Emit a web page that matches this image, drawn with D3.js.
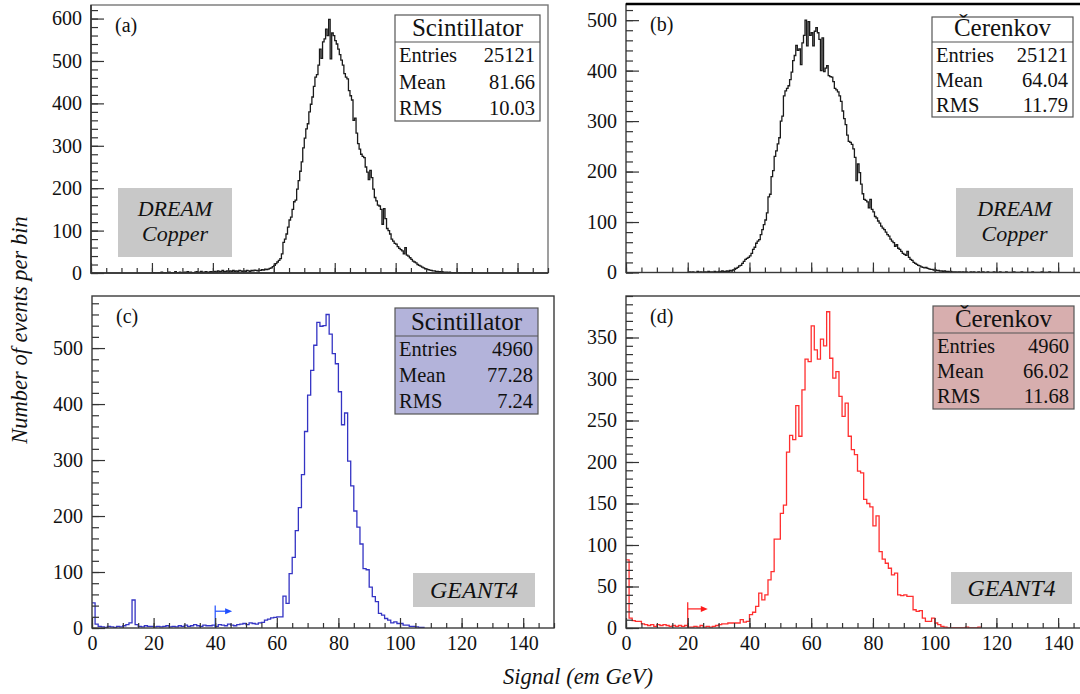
<!DOCTYPE html>
<html>
<head>
<meta charset="utf-8">
<script src="https://d3js.org/d3.v7.min.js"></script>
<style>
  body { margin: 0; background: #fff; }
  text { font-family: "Liberation Serif", "DejaVu Serif", serif; fill: #111; }
</style>
</head>
<body>
<div id="chartContainer"></div>
<script>
// ---- data ----
// (a) DREAM scintillator signal, 0.5 GeV bins starting at 20 GeV
var dreamScintStart = 20, dreamScintBin = 0.5;
var dreamScint = [
  0,1,0,0,1,0,2,0,1,1, 0,2,1,0,1,3,1,0,2,1, 1,2,0,3,1,2,1,0,2,3, 1,2,4,1,2,3,2,1,3,2,
  3,4,2,5,3,4,6,3,4,5, 3,5,4,6,4,5,3,6,5,4,
  5,4,6,5,4,6,5,7, 6,5,7,6,8,7,9,8,
  9,11,12,15,18,22,26,30,34,45,72,80,
  92,108,125,132,150,168,172,198,218,240,262,295,
  318,340,352,380,398,415,440,462,468,490,528,506,
  545,552,575,560,598,505,566,560,548,540,528,515,
  502,490,470,462,458,430,418,408,360,365,330,305,
  292,280,275,272,250,238,220,242,225,198,178,170,
  160,158,150,115,152,128,105,100,92,80,75,70,
  68,62,58,55,52,45,60,42,40,36,32,28,
  26,24,20,18,16,14,12,10,9,8,7,6,
  5,5,4,4,3,3,3,2,2,2,1,2,
  1,1,1,0,1,0,1,0,0,1,0,0,1,0,0,1
];
// (b) DREAM Cerenkov signal, 0.5 GeV bins starting at 20 GeV
var dreamCerStart = 20, dreamCerBin = 0.5;
var dreamCer = [
  0,1,0,1,0,0,2,0,1,0, 1,1,0,2,1,1,0,2,1,1, 2,1,3,1,2,3,2,4,3,5,
  6,8,10,13,14,18,22,26,28,30,
  33,38,46,50,58,62,65,75,85,95,
  104,118,150,155,190,202,230,241,255,267,
  300,310,350,360,365,370,382,397,420,430,
  450,440,443,412,455,470,500,449,497,470,
  475,449,478,485,475,462,400,465,398,405,
  410,390,388,387,378,365,362,358,350,339,
  320,305,293,272,260,258,254,245,228,182,
  215,198,175,156,145,143,140,128,145,125,
  120,111,108,102,98,92,88,85,80,75,
  72,66,62,59,52,55,48,46,42,38,
  36,34,42,30,26,24,20,18,16,14,
  13,11,10,9,10,8,7,6,6,5,
  5,4,4,3,3,2,3,2,2,1,
  2,1,1,1,0,1,1,0,1,0,
  1,0,0,1,0,1,0,0,1,0, 0,1,0,0,1,0,0,0,1,0,
  0,0,1,0,0,0,1,0,0,0, 0,1,0,0,0,0,1,0,0,0, 0,0,0,1,0,0,0,0,0,1, 0,0,0,0,1,0,0,0,0,0
];
// (c) GEANT4 scintillator, 1 GeV bins from 0
var g4ScintStart = 0, g4ScintBin = 1;
var g4Scint = [
  45,7,3,2,1,3,2,1,3,2, 4,6,9,50,6,3,2,4,3,3,
  2,3,2,3,4,2,3,2,4,3, 5,3,4,6,4,3,5,4,4,5,
  3,6,5,4,7,5,4,6,7,8, 6,9,8,7,9,10,14,16,18,19,
  20,20,57,44,97,126,174,215,274,351,
  416,460,505,546,539,540,560,525,490,472,
  422,363,384,298,254,209,180,150,106,104,
  73,56,47,26,23,17,14,9,11,8,
  8,5,5,3,3,2,1,1
];
// (d) GEANT4 Cerenkov, 1 GeV bins from 0
var g4CerStart = 0, g4CerBin = 1;
var g4Cer = [
  82,12,9,8,8,5,4,3,4,2, 4,3,4,3,2,3,2,3,2,3,
  1,1,2,1,3,1,2,1,2,3, 4,5,5,6,6,6,6,10,7,8,
  16,19,26,42,34,40,58,68,107,107,
  138,148,212,232,227,268,231,287,324,321,
  364,335,324,348,340,381,325,301,309,279,
  255,271,231,215,209,189,187,155,150,146,
  123,135,92,83,78,72,64,66,40,39,
  40,38,38,22,20,21,12,8,8,12,
  6,4,2,1,0,0,0,0,0,0, 1,0,0,0,1
];

var xDomain = [0, 150];
var xMajor = [0, 20, 40, 60, 80, 100, 120, 140];
var statsLabels = ["Entries", "Mean", "RMS"];
var statsScint = ["25121", "81.66", "10.03"];
var statsCer = ["25121", "64.04", "11.79"];
var statsG4Scint = ["4960", "77.28", "7.24"];
var statsG4Cer = ["4960", "66.02", "11.68"];

var svg = d3.select("#chartContainer").append("svg")
  .attr("width", 1080).attr("height", 694)
  .attr("font-family", "Liberation Serif");

var panels = [
  { tag: "(a)", counts: dreamScint, start: dreamScintStart, bin: dreamScintBin,
    l: 91, r: 548, t: 5, b: 273, ymax: 632, yMajor: 100, yTop: 600, yMinor: 20,
    color: "#1a1a1a", title: "Scintillator", stats: statsScint,
    boxX: [395, 540], boxY: [15, 42, 121], boxFill: "#fff",
    label: ["DREAM", "Copper"], lab: [118, 232, 188, 257], xLabels: false },
  { tag: "(b)", counts: dreamCer, start: dreamCerStart, bin: dreamCerBin,
    l: 626, r: 1089, t: 4, b: 272.5, ymax: 532, yMajor: 100, yTop: 500, yMinor: 20,
    color: "#1a1a1a", title: "\u010Cerenkov", stats: statsCer,
    boxX: [932, 1073], boxY: [17, 42, 117], boxFill: "#fff",
    label: ["DREAM", "Copper"], lab: [956, 1073, 188, 257], xLabels: false },
  { tag: "(c)", counts: g4Scint, start: g4ScintStart, bin: g4ScintBin,
    l: 92, r: 554, t: 296, b: 628, ymax: 593, yMajor: 100, yTop: 500, yMinor: 20,
    color: "#3434c4", title: "Scintillator", stats: statsG4Scint,
    boxX: [395, 538], boxY: [308, 336, 414], boxFill: "#b3b3da",
    label: ["GEANT4"], lab: [413, 535, 573, 607], xLabels: true,
    arrow: { x: 40, top: 40, y: 30, to: 45.5, color: "#1f4fff" } },
  { tag: "(d)", counts: g4Cer, start: g4CerStart, bin: g4CerBin,
    l: 626, r: 1089, t: 296, b: 628, ymax: 400, yMajor: 50, yTop: 350, yMinor: 10,
    color: "#ff2f2f", title: "\u010Cerenkov", stats: statsG4Cer,
    boxX: [933, 1074], boxY: [306, 333, 409], boxFill: "#d7aeae",
    label: ["GEANT4"], lab: [951, 1072, 572, 604], xLabels: true,
    arrow: { x: 20, top: 31, y: 23, to: 26.5, color: "#ff1a1a" } }
];

panels.forEach(function (p, idx) {
  var g = svg.append("g");
  var x = d3.scaleLinear().domain(xDomain).range([p.l, p.r]);
  var y = d3.scaleLinear().domain([0, p.ymax]).range([p.b, p.t]);

  var clipId = "clip" + idx;
  svg.append("clipPath").attr("id", clipId).append("rect")
    .attr("x", p.l).attr("y", p.t).attr("width", p.r - p.l).attr("height", p.b - p.t);

  // label box (grey)
  g.append("rect").attr("x", p.lab[0]).attr("y", p.lab[2])
    .attr("width", p.lab[1] - p.lab[0]).attr("height", p.lab[3] - p.lab[2])
    .attr("fill", "#c8c8c8");
  var cx = (p.lab[0] + p.lab[1]) / 2;
  if (p.label.length == 2) {
    g.append("text").attr("x", cx).attr("y", 216).attr("text-anchor", "middle")
      .attr("font-style", "italic").attr("font-size", 22).text(p.label[0]);
    g.append("text").attr("x", cx).attr("y", 241).attr("text-anchor", "middle")
      .attr("font-style", "italic").attr("font-size", 22).text(p.label[1]);
  } else {
    g.append("text").attr("x", cx).attr("y", (p.lab[2] + p.lab[3]) / 2 + 8)
      .attr("text-anchor", "middle").attr("font-style", "italic")
      .attr("font-size", 24).text(p.label[0]);
  }

  // histogram as steps
  var pts = p.counts.map(function (c, i) { return [p.start + i * p.bin, c]; });
  pts.push([p.start + p.counts.length * p.bin, p.counts[p.counts.length - 1]]);
  var line = d3.line().x(function (d) { return x(d[0]); })
    .y(function (d) { return y(d[1]); }).curve(d3.curveStepAfter);
  g.append("path").datum(pts).attr("d", line).attr("fill", "none")
    .attr("stroke", p.color).attr("stroke-width", 1.3)
    .attr("clip-path", "url(#" + clipId + ")");

  // cut arrow
  if (p.arrow) {
    var a = p.arrow;
    g.append("line").attr("x1", x(a.x)).attr("x2", x(a.x)).attr("y1", y(0)).attr("y2", y(a.top))
      .attr("stroke", a.color).attr("stroke-width", 1.2);
    g.append("line").attr("x1", x(a.x)).attr("x2", x(a.to) - 5).attr("y1", y(a.y)).attr("y2", y(a.y))
      .attr("stroke", a.color).attr("stroke-width", 1.2);
    var ax = x(a.to), ay = y(a.y);
    g.append("path").attr("d", "M" + ax + "," + ay + "L" + (ax - 7) + "," + (ay - 3) + "L" + (ax - 7) + "," + (ay + 3) + "Z")
      .attr("fill", a.color);
  }

  // frame
  g.append("rect").attr("x", p.l).attr("y", p.t).attr("width", p.r - p.l).attr("height", p.b - p.t)
    .attr("fill", "none").attr("stroke", idx == 0 ? "#777" : "#3a3a3a").attr("stroke-width", 1.4);
  if (idx == 0) {
    // left and bottom axes are darker in (a)
    g.append("path").attr("d", "M" + p.l + "," + p.t + "V" + p.b + "H" + p.r)
      .attr("fill", "none").attr("stroke", "#222").attr("stroke-width", 1.4);
  }
  if (idx == 1) {
    g.append("line").attr("x1", p.l).attr("x2", p.r).attr("y1", p.t).attr("y2", p.t)
      .attr("stroke", "#000").attr("stroke-width", 2.4);
  }

  // y axis ticks (inside) and labels
  var yMinorVals = d3.range(0, p.ymax + 0.1, p.yMinor);
  var yMajorVals = d3.range(0, p.yTop + 0.1, p.yMajor);
  var ya = g.append("g").attr("transform", "translate(" + p.l + ",0)")
    .call(d3.axisRight(y).tickValues(yMinorVals).tickSize(7).tickFormat(""));
  ya.select(".domain").remove();
  var yb = g.append("g").attr("transform", "translate(" + p.l + ",0)")
    .call(d3.axisRight(y).tickValues(yMajorVals).tickSize(13).tickFormat(""));
  yb.select(".domain").remove();
  var yl = g.append("g").attr("transform", "translate(" + p.l + ",0)")
    .call(d3.axisLeft(y).tickValues(yMajorVals).tickSize(0).tickPadding(9));
  yl.select(".domain").remove();
  g.selectAll(".tick line").attr("stroke", "#333").attr("stroke-width", 1.2);
  yl.selectAll("text").attr("font-size", 20).attr("fill", "#111");

  // x axis ticks (inside)
  var xa = g.append("g").attr("transform", "translate(0," + p.b + ")")
    .call(d3.axisTop(x).tickValues(d3.range(0, 151, 5)).tickSize(5).tickFormat(""));
  xa.select(".domain").remove();
  var xb = g.append("g").attr("transform", "translate(0," + p.b + ")")
    .call(d3.axisTop(x).tickValues(xMajor).tickSize(10).tickFormat(""));
  xb.select(".domain").remove();
  g.selectAll(".tick line").attr("stroke", "#333").attr("stroke-width", 1.2);
  if (p.xLabels) {
    var xl = g.append("g").attr("transform", "translate(0," + p.b + ")")
      .call(d3.axisBottom(x).tickValues(xMajor).tickSize(0).tickPadding(8));
    xl.select(".domain").remove();
    xl.selectAll("text").attr("font-size", 20).attr("fill", "#111");
  }

  // panel tag
  g.append("text").attr("x", p.l + 24).attr("y", p.t + 27).attr("font-size", 20).text(p.tag);

  // stats box
  var bx0 = p.boxX[0], bx1 = p.boxX[1];
  g.append("rect").attr("x", bx0).attr("y", p.boxY[0]).attr("width", bx1 - bx0)
    .attr("height", p.boxY[2] - p.boxY[0]).attr("fill", p.boxFill)
    .attr("stroke", "#555").attr("stroke-width", 1.2);
  g.append("line").attr("x1", bx0).attr("x2", bx1).attr("y1", p.boxY[1]).attr("y2", p.boxY[1])
    .attr("stroke", "#555").attr("stroke-width", 1.2);
  g.append("text").attr("x", (bx0 + bx1) / 2).attr("y", p.boxY[1] - 6)
    .attr("text-anchor", "middle").attr("font-size", 25).text(p.title);
  var rowH = (p.boxY[2] - p.boxY[1]) / 3;
  statsLabels.forEach(function (lbl, i) {
    var by = p.boxY[1] + rowH * (i + 0.5) + 7;
    g.append("text").attr("x", bx0 + 4).attr("y", by).attr("font-size", 20.5).text(lbl);
    g.append("text").attr("x", bx1 - 5).attr("y", by).attr("text-anchor", "end")
      .attr("font-size", 20.5).text(p.stats[i]);
  });
});

// axis titles
svg.append("text").attr("x", 578).attr("y", 684).attr("text-anchor", "middle")
  .attr("font-style", "italic").attr("font-size", 22.5).text("Signal (em GeV)");
svg.append("text").attr("transform", "translate(27,330) rotate(-90)")
  .attr("text-anchor", "middle").attr("font-style", "italic").attr("font-size", 22.5)
  .text("Number of events per bin");
</script>
</body>
</html>
